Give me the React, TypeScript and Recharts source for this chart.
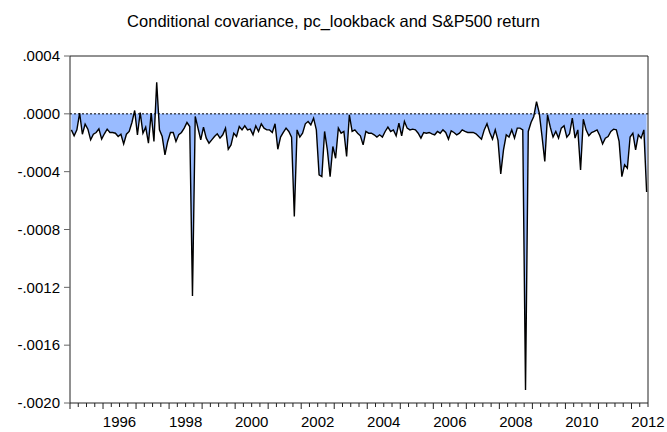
import React from 'react';
import {
  ComposedChart,
  Area,
  XAxis,
  YAxis,
  ReferenceLine,
  ReferenceArea,
} from 'recharts';

// monthly conditional covariance, in units of 1e-4, starting 1995M01
const cov1995_1999 = [
  -1.11, -1.52, -1.11, 0.05, -1.41, -0.71, -1.06, -1.8, -1.41, -1.29, -1.04, -1.75,
  -1.38, -1.06, -1.29, -1.29, -1.34, -1.57, -1.41, -2.08, -1.41, -1.22, -0.6, 0.23,
  -1.45, 0.09, -1.34, -0.92, -2.03, 0.05, -1.91, 2.19, -1.11, -1.57, -2.84, -1.91,
  -1.29, -1.29, -1.91, -1.45, -1.29, -0.99, -0.6, -0.88, -12.6, -0.18, -0.99, -1.8,
  -0.92, -1.68, -2.03, -1.8, -1.57, -1.38, -1.68, -1.45, -0.99, -2.45, -2.15, -1.34,
];
const cov2000_2004 = [
  -1.57, -0.88, -1.11, -0.83, -1.11, -1.06, -1.45, -0.83, -1.22, -0.69, -0.99, -1.11,
  -1.11, -1.29, -0.69, -2.45, -1.61, -1.29, -0.99, -1.22, -1.61, -7.1, -1.11, -1.61,
  -1.34, -0.69, -0.53, -0.76, -0.3, -1.11, -4.22, -4.34, -1.22, -2.49, -4.34, -2.26,
  -3.07, -0.99, -1.34, -1.22, -2.95, -0.07, -1.22, -1.11, -1.34, -1.52, -2.15, -1.22,
  -1.34, -1.34, -1.45, -1.61, -1.45, -1.61, -1.22, -0.92, -1.22, -1.11, -1.52, -0.65,
];
const cov2005_2009 = [
  -1.52, -0.53, -0.99, -1.11, -1.06, -1.11, -1.34, -1.68, -1.29, -1.34, -1.29, -1.38,
  -1.45, -1.22, -1.34, -1.11, -1.29, -1.75, -1.18, -1.29, -1.45, -1.34, -1.11, -1.22,
  -1.29, -1.29, -1.29, -1.38, -1.57, -1.75, -1.11, -0.69, -1.29, -1.75, -1.11, -1.84,
  -4.15, -2.49, -1.45, -1.61, -1.11, -1.68, -0.99, -0.99, -1.11, -19.1, -1.22, -0.6,
  -0.18, 0.85, 0.05, -1.57, -3.3, -0.07, -0.92, -1.61, -1.22, -1.68, -0.99, -0.83,
];
const cov2010_2012 = [
  -1.61, -1.38, -0.3, -1.68, -1.11, -3.88, -0.37, -1.11, -1.52, -1.29, -1.22, -1.11,
  -1.52, -2.08, -1.68, -1.57, -1.22, -1.06, -1.11, -1.91, -4.34, -3.53, -3.76, -1.6,
  -1.34, -2.49, -1.45, -1.68, -1.11, -5.4,
];

const START_YEAR = 1995;
const END_YEAR = 2012.5;
const yearLabels = [1996, 1998, 2000, 2002, 2004, 2006, 2008, 2010, 2012];
const yTicks = [-0.002, -0.0016, -0.0012, -0.0008, -0.0004, 0, 0.0004];

const covSeries = [...cov1995_1999, ...cov2000_2004, ...cov2005_2009, ...cov2010_2012];
const data = covSeries.map((v, i) => ({ t: START_YEAR + (i + 0.5) / 12, v: v * 1e-4 }));

// quarter ticks along the date axis
const xTicks: number[] = [];
for (let q = START_YEAR; q <= END_YEAR + 1e-9; q += 0.25) xTicks.push(q);

const FONT = '"Liberation Sans", Arial, sans-serif';

const fmtY = (v: number) => {
  const s = Math.abs(v).toFixed(4).replace(/^0/, '');
  return v < -1e-12 ? '-' + s : s;
};

const DateTick = (props: any) => {
  const { x, y, payload } = props;
  const v = payload.value;
  const isYear = Math.abs(v - Math.round(v)) < 1e-9;
  const half = v - 0.5;
  const label = Math.abs(half - Math.round(half)) < 1e-9 && yearLabels.includes(Math.round(half))
    ? Math.round(half)
    : null;
  return (
    <g>
      <line x1={x} x2={x} y1={y} y2={y + (isYear ? 6 : 4)} stroke="#222" strokeWidth={1} />
      {label !== null && (
        <text x={x} y={y + 23.5} textAnchor="middle" fontSize={15} fontFamily={FONT} fill="#000">
          {label}
        </text>
      )}
    </g>
  );
};

export default function App() {
  return (
    <div style={{ position: 'absolute', left: 0, top: 0, width: 667, height: 432, background: '#fff' }}>
      <div
        style={{
          position: 'absolute',
          left: 0,
          top: 13,
          width: 667,
          textAlign: 'center',
          fontFamily: FONT,
          fontSize: 16.5,
          lineHeight: '16.5px',
          color: '#000',
        }}
      >
        Conditional covariance, pc_lookback and S&amp;P500 return
      </div>
      <ComposedChart
        width={667}
        height={432}
        data={data}
        margin={{ top: 56, right: 19, bottom: 0, left: 0 }}
      >
        <XAxis
          dataKey="t"
          type="number"
          domain={[START_YEAR, END_YEAR]}
          ticks={xTicks}
          interval={0}
          height={29}
          tickSize={0}
          tickMargin={0}
          axisLine={false}
          tickLine={false}
          tick={<DateTick />}
        />
        <YAxis
          type="number"
          domain={[-0.002, 0.0004]}
          ticks={yTicks}
          interval={0}
          width={70}
          tickSize={6}
          tickMargin={4}
          axisLine={false}
          tickLine={{ stroke: '#666' }}
          tickFormatter={fmtY}
          tick={{ fontSize: 15, fontFamily: FONT, fill: '#000' }}
        />
        <Area
          type="linear"
          dataKey="v"
          stroke="#000"
          strokeWidth={1.4}
          fill="#99BBFF"
          fillOpacity={1}
          dot={false}
          activeDot={false}
          isAnimationActive={false}
        />
        <ReferenceLine y={0} stroke="#000" strokeWidth={1} strokeDasharray="2 2" />
        <ReferenceArea
          x1={START_YEAR}
          x2={END_YEAR}
          y1={-0.002}
          y2={0.0004}
          fill="none"
          stroke="#222"
          strokeWidth={1}
          ifOverflow="visible"
        />
      </ComposedChart>
    </div>
  );
}
